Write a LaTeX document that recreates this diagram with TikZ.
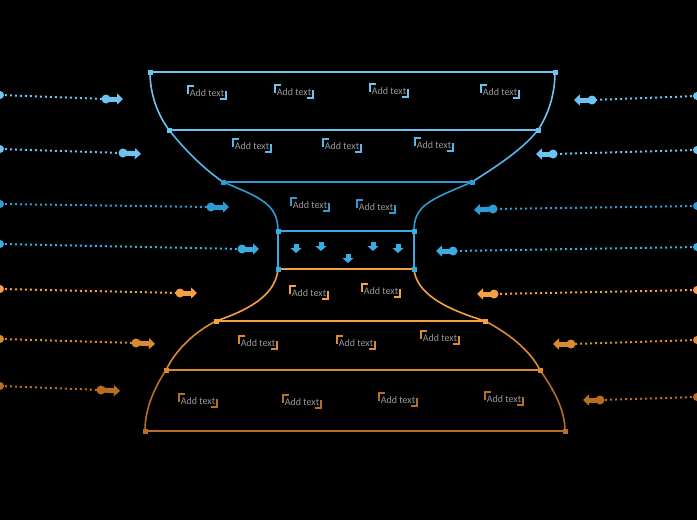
\documentclass[tikz,border=0pt]{standalone}
\usepackage{fontspec}
\setmainfont{Carlito}
\usetikzlibrary{arrows.meta}
\definecolor{bA}{HTML}{6EC4F0}
\definecolor{bB}{HTML}{55B8EC}
\definecolor{bC}{HTML}{2E9AD6}
\definecolor{bD}{HTML}{3AACE2}
\definecolor{oA}{HTML}{F5A043}
\definecolor{oB}{HTML}{D98A32}
\definecolor{oC}{HTML}{B86E20}
\definecolor{txt}{HTML}{9A9A9A}
\tikzset{
  lbl/.style={font=\fontsize{10}{11}\selectfont, text=txt, inner sep=1.5pt},
  edge/.style={line width=1.6pt},
  dotline/.style={line width=2pt, dash pattern=on 2pt off 3pt},
  corner/.style={minimum size=5pt, inner sep=0pt, fill=#1, draw=none},
}
\newcommand\addlabel[3]{%
  \node[lbl] (#1) at (#2) {Add text};
  \draw[#3, line width=1.6pt] ([xshift=6pt,yshift=2pt]#1.north west) -- ([yshift=2pt]#1.north west) -- ([yshift=-6pt]#1.north west);
  \draw[#3, line width=1.6pt] ([xshift=-6pt,yshift=-1pt]#1.south east) -- ([yshift=-1pt]#1.south east) -- ([yshift=7pt]#1.south east);
}
\newcommand\sidearrow[5]{%
  \coordinate (#1s) at (#3);
  \coordinate (#1c) at (#4);
  \coordinate (#1t) at (#5);
  \draw[dotline, #2] (#1s) -- (#1c);
  \fill[#2] (#1s) circle (4pt);
  \fill[#2] (#1c) circle (4.5pt);
  \draw[#2, line width=5pt, -{Triangle[length=6pt,width=11pt]}] (#1c) -- (#1t);
}
\begin{document}
\begin{tikzpicture}[x=1pt,y=-1pt]
\fill[black] (0,0) rectangle (697,520);
\useasboundingbox (0,0) rectangle (697,520);

% key points
\coordinate (L1) at (150,72);  \coordinate (R1) at (555,72);
\coordinate (L2) at (169,130); \coordinate (R2) at (538,130);
\coordinate (L3) at (223,182); \coordinate (R3) at (472,182);
\coordinate (L4) at (278,231); \coordinate (R4) at (414,231);
\coordinate (L5) at (278,269); \coordinate (R5) at (414,269);
\coordinate (L6) at (216,321); \coordinate (R6) at (485,321);
\coordinate (L7) at (166,370); \coordinate (R7) at (540,370);
\coordinate (L8) at (145,431); \coordinate (R8) at (565,431);

% horizontal lines
\draw[edge, bA] (L1) -- (R1);
\draw[edge, bA] (L2) -- (R2);
\draw[edge, bC] (L3) -- (R3);
\draw[edge, bD] (L4) -- (R4);
\draw[edge, bD] (L4) -- (L5);
\draw[edge, bD] (R4) -- (R5);
\draw[edge, oA] (L5) -- (R5);
\draw[edge, oA] (L6) -- (R6);
\draw[edge, oB] (L7) -- (R7);
\draw[edge, oC] (L8) -- (R8);

% side curves
\draw[edge, bA] (L1) .. controls (150,95) and (158,115) .. (L2);
\draw[edge, bB] (L2) .. controls (185,150) and (203,168) .. (L3);
\draw[edge, bC] (L3) .. controls (262,198) and (278,205) .. (L4);
\draw[edge, bA] (R1) .. controls (555,95) and (548,115) .. (R2);
\draw[edge, bB] (R2) .. controls (522,150) and (497,166) .. (R3);
\draw[edge, bC] (R3) .. controls (430,200) and (414,205) .. (R4);
\draw[edge, oA] (L5) .. controls (276,292) and (255,308) .. (L6);
\draw[edge, oB] (L6) .. controls (193,333) and (176,350) .. (L7);
\draw[edge, oC] (L7) .. controls (153,390) and (145,410) .. (L8);
\draw[edge, oA] (R5) .. controls (416,292) and (442,308) .. (R6);
\draw[edge, oB] (R6) .. controls (508,333) and (530,350) .. (R7);
\draw[edge, oC] (R7) .. controls (554,390) and (565,410) .. (R8);

% corner markers
\foreach \p/\c in {L1/bA,R1/bA,L2/bA,R2/bA,L3/bC,R3/bC,L4/bD,R4/bD,L5/bD,R5/bD,L6/oA,R6/oA,L7/oB,R7/oB,L8/oC,R8/oC}
  \node[corner=\c] at (\p) {};

% labels
\addlabel{a1}{207,93}{bA}
\addlabel{a2}{294,92}{bA}
\addlabel{a3}{389,91}{bA}
\addlabel{a4}{500,92}{bA}
\addlabel{b1}{252,146}{bB}
\addlabel{b2}{342,146}{bB}
\addlabel{b3}{434,145}{bB}
\addlabel{c1}{310,205}{bC}
\addlabel{c2}{376,207}{bC}
\addlabel{d1}{309,293}{oA}
\addlabel{d2}{381,291}{oA}
\addlabel{e1}{258,343}{oB}
\addlabel{e2}{356,343}{oB}
\addlabel{e3}{440,338}{oB}
\addlabel{f1}{198,401}{oC}
\addlabel{f2}{302,402}{oC}
\addlabel{f3}{398,400}{oC}
\addlabel{f4}{504,399}{oC}

% small down arrows
\foreach \x/\y [count=\i] in {296/249,321/247,348/259,373/247,398/249}{
  \coordinate (da\i) at (\x,\y-5);
  \coordinate (db\i) at (\x,\y+4);
  \draw[bD, line width=5pt, -{Triangle[length=5pt,width=11pt]}] (da\i) -- (db\i);
}

% side arrows left
\sidearrow{la}{bA}{0,95}{106,99}{123,99}
\sidearrow{lb}{bA}{0,149}{123,153}{141,154}
\sidearrow{lc}{bC}{0,204}{211,207}{229,207}
\sidearrow{ld}{bD}{0,244}{242,249}{259,249}
\sidearrow{le}{oA}{0,289}{180,293}{197,293}
\sidearrow{lf}{oB}{0,339}{136,343}{155,344}
\sidearrow{lg}{oC}{0,386}{101,390}{120,391}
% side arrows right
\sidearrow{ra}{bA}{697,96}{592,100}{574,100}
\sidearrow{rb}{bA}{697,150}{553,154}{536,154}
\sidearrow{rc}{bC}{697,206}{493,209}{474,210}
\sidearrow{rd}{bD}{697,247}{453,251}{436,251}
\sidearrow{re}{oA}{697,290}{494,294}{477,294}
\sidearrow{rf}{oB}{697,340}{571,344}{553,344}
\sidearrow{rg}{oC}{697,397}{600,400}{583,400}
\end{tikzpicture}
\end{document}
